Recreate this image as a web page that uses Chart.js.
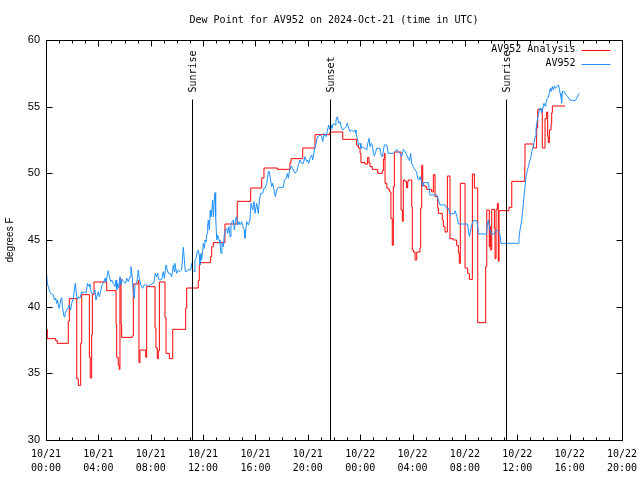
<!DOCTYPE html>
<html>
<head>
<meta charset="utf-8">
<title>Dew Point for AV952</title>
<script src="https://cdn.jsdelivr.net/npm/chart.js@4.4.1/dist/chart.umd.min.js"></script>
<style>
  html, body { margin: 0; padding: 0; background: #fff; }
  canvas { display: block; }
</style>
</head>
<body>
<canvas id="dewChart" width="640" height="480"></canvas>
<script>
// hours since 2024-10-21 00:00 UTC
const analysisHours = [
  0.05, 0.10, 0.74, 0.86, 1.70, 1.78, 2.35, 2.47, 2.65, 2.73,
  3.31, 3.38, 3.49, 3.54, 3.67, 4.64, 5.35, 5.40, 5.52, 5.60,
  5.65, 5.73, 5.78, 6.59, 6.67, 7.05, 7.10, 7.18, 7.62, 7.69,
  8.33, 8.40, 8.50, 8.58, 8.66, 9.09, 9.17, 9.42, 9.68, 10.67,
  10.75, 11.63, 11.71, 11.76, 12.58, 12.66, 12.78, 13.67, 14.61, 15.64,
  16.48, 16.65, 17.67, 18.64, 18.72, 19.61, 20.55, 21.69, 22.67, 23.73,
  23.86, 23.99, 24.06, 24.37, 24.57, 24.67, 24.75, 24.93, 25.34, 25.69,
  25.77, 25.84, 25.90, 26.03, 26.15, 26.26, 26.35, 26.45, 26.53, 26.61,
  27.12, 27.22, 27.29, 27.42, 27.55, 27.63, 27.68, 27.94, 27.98, 28.06,
  28.19, 28.32, 28.57, 28.62, 28.70, 28.78, 28.95, 29.08, 29.46, 29.59,
  29.72, 29.92, 29.97, 30.27, 30.35, 30.48, 30.66, 30.86, 31.11, 31.37,
  31.50, 31.57, 31.65, 32.01, 32.21, 32.34, 32.57, 32.72, 32.98, 33.59,
  33.67, 33.86, 33.92, 33.97, 34.05, 34.25, 34.30, 34.38, 34.48, 34.55,
  34.61, 35.37, 35.58, 36.57, 36.59, 37.23, 37.48, 37.56, 37.91, 38.12,
  38.25, 38.32, 38.37, 38.45, 38.58, 38.63, 38.68, 39.65
];
const analysisValues = [
  38.3, 37.6, 37.45, 37.25, 38.9, 40.6, 34.6, 34.1, 37.25, 40.9,
  36.2, 34.65, 37.9, 40.9, 41.85, 41.2, 38.7, 36.2, 35.6, 35.3,
  42.1, 38.7, 37.7, 37.8, 41.7, 41.95, 35.8, 36.75, 36.2, 41.5,
  38.4, 36.9, 36.1, 36.7, 41.85, 39.2, 36.5, 36.1, 38.3, 39.9,
  41.4, 41.95, 43.1, 43.3, 43.75, 44.5, 44.8, 46.2, 47.9, 48.9,
  49.65, 50.4, 50.3, 50.8, 51.1, 51.9, 52.9, 53.1, 52.55, 52.1,
  51.9, 51.5, 50.8, 50.7, 51.2, 50.8, 50.5, 50.3, 50.0, 50.2,
  51.05, 51.5, 49.25, 48.9, 48.8, 48.6, 46.6, 44.6, 49.0, 51.6,
  47.25, 46.4, 49.5, 49.4, 48.9, 49.4, 49.5, 47.5, 44.25, 44.1,
  43.5, 44.1, 44.4, 47.4, 50.6, 49.1, 49.0, 48.8, 48.6, 49.9,
  48.25, 47.4, 47.0, 46.5, 46.0, 45.6, 49.8, 45.1, 45.0, 44.6,
  44.05, 43.25, 49.25, 42.9, 42.5, 42.05, 49.95, 48.9, 38.8, 43.0,
  47.25, 44.5, 46.0, 44.25, 47.3, 45.9, 43.6, 47.3, 47.75, 43.4,
  47.2, 47.45, 49.4, 50.5, 52.2, 51.9, 53.4, 54.8, 51.9, 54.1,
  54.6, 52.75, 52.3, 53.25, 53.75, 54.55, 55.05, 55.05
];

const obsHours = [
  0.05, 0.10, 0.18, 0.31, 0.43, 0.56, 0.64, 0.74, 0.81, 0.89,
  0.94, 1.02, 1.12, 1.20, 1.27, 1.38, 1.45, 1.58, 1.71, 1.78,
  1.88, 1.96, 2.09, 2.16, 2.24, 2.34, 2.42, 2.47, 2.60, 2.72,
  2.80, 2.93, 3.06, 3.16, 3.23, 3.31, 3.36, 3.49, 3.62, 3.74,
  3.82, 3.92, 4.00, 4.07, 4.18, 4.25, 4.38, 4.51, 4.58, 4.69,
  4.76, 4.84, 4.94, 5.02, 5.14, 5.27, 5.35, 5.40, 5.47, 5.55,
  5.65, 5.73, 5.81, 5.91, 6.09, 6.16, 6.29, 6.42, 6.49, 6.57,
  6.67, 6.75, 6.80, 6.93, 7.05, 7.13, 7.23, 7.38, 7.49, 7.64,
  7.82, 7.94, 8.20, 8.28, 8.35, 8.45, 8.53, 8.61, 8.71, 8.84,
  8.96, 9.04, 9.17, 9.27, 9.35, 9.47, 9.60, 9.73, 9.80, 9.85,
  9.98, 10.11, 10.24, 10.36, 10.49, 10.57, 10.64, 10.75, 10.82, 10.95,
  11.05, 11.13, 11.20, 11.31, 11.38, 11.46, 11.56, 11.64, 11.71, 11.76,
  11.84, 11.89, 11.97, 12.02, 12.10, 12.15, 12.22, 12.30, 12.35, 12.40,
  12.48, 12.55, 12.60, 12.66, 12.73, 12.79, 12.86, 12.91, 12.96, 13.04,
  13.11, 13.22, 13.29, 13.37, 13.44, 13.55, 13.62, 13.72, 13.80, 13.88,
  13.98, 14.06, 14.13, 14.23, 14.31, 14.39, 14.49, 14.57, 14.64, 14.74,
  14.82, 14.95, 15.07, 15.15, 15.20, 15.33, 15.46, 15.58, 15.66, 15.79,
  15.89, 15.97, 16.09, 16.22, 16.30, 16.40, 16.55, 16.65, 16.73, 16.86,
  16.99, 17.06, 17.16, 17.24, 17.32, 17.42, 17.52, 17.62, 17.75, 18.13,
  18.21, 18.33, 18.44, 18.51, 18.59, 18.69, 18.79, 18.89, 19.02, 19.15,
  19.28, 19.40, 19.53, 19.66, 19.78, 19.91, 19.99, 20.07, 20.17, 20.30,
  20.37, 20.50, 20.63, 20.73, 20.81, 20.93, 21.06, 21.14, 21.24, 21.39,
  21.49, 21.59, 21.70, 21.77, 21.85, 21.95, 22.08, 22.15, 22.26, 22.36,
  22.46, 22.54, 22.67, 22.79, 22.92, 23.02, 23.12, 23.22, 23.35, 23.48,
  23.61, 23.68, 23.78, 23.86, 23.99, 24.06, 24.17, 24.37, 24.50, 24.57,
  24.68, 24.75, 24.83, 24.93, 25.01, 25.08, 25.19, 25.26, 25.51, 25.59,
  25.69, 25.85, 26.03, 26.15, 26.53, 26.66, 26.79, 26.92, 27.04, 27.17,
  27.30, 27.43, 27.55, 27.68, 27.76, 27.86, 27.93, 28.06, 28.19, 28.31,
  28.39, 28.49, 28.57, 28.70, 28.77, 28.85, 29.21, 29.33, 29.84, 29.97,
  30.10, 30.48, 30.61, 30.74, 30.86, 31.19, 31.24, 31.37, 31.50, 32.21,
  32.26, 32.34, 32.44, 32.52, 32.65, 32.90, 32.98, 33.03, 33.66, 33.71,
  33.79, 33.87, 33.99, 34.25, 34.30, 34.43, 34.56, 34.68, 34.76, 36.08,
  36.13, 36.21, 36.34, 36.42, 36.49, 36.59, 36.67, 36.77, 36.85, 36.93,
  37.03, 37.10, 37.18, 37.25, 37.36, 37.43, 37.51, 37.61, 37.69, 37.76,
  37.81, 37.86, 37.94, 38.04, 38.12, 38.19, 38.30, 38.37, 38.45, 38.53,
  38.58, 38.68, 38.76, 38.83, 38.93, 39.01, 39.14, 39.21, 39.27, 39.34,
  39.39, 39.44, 39.60, 39.70, 39.85, 40.03, 40.41, 40.54, 40.66, 40.73
];
const obsValues = [
  42.45, 41.75, 41.5, 41.05, 40.93, 40.88, 40.5, 40.63, 40.25, 40.5,
  40.05, 39.88, 40.5, 40.68, 39.88, 39.25, 39.5, 39.75, 39.95, 40.13,
  39.75, 40.25, 40.63, 41.25, 41.75, 40.75, 40.55, 40.75, 40.63, 41.13,
  41.0, 41.13, 41.0, 41.75, 41.55, 41.68, 41.45, 41.0, 41.0, 41.25,
  40.5, 40.88, 41.13, 40.75, 41.13, 41.55, 41.75, 42.13, 41.88, 42.38,
  42.7, 42.25, 41.88, 42.0, 41.75, 41.5, 42.0, 41.25, 41.75, 41.38,
  42.25, 41.63, 42.05, 41.88, 41.75, 42.13, 41.88, 42.25, 43.0, 42.38,
  41.13, 40.63, 41.63, 41.75, 42.75, 42.13, 41.63, 41.38, 41.63, 41.63,
  41.55, 41.63, 41.75, 42.0, 42.5, 42.25, 42.5, 42.05, 42.0, 42.05,
  42.63, 42.13, 43.13, 42.75, 42.5, 42.5, 42.25, 43.13, 42.63, 43.25,
  42.5, 42.75, 42.63, 42.75, 44.45, 43.5, 42.63, 42.63, 42.75, 42.8,
  42.75, 43.25, 42.75, 42.63, 43.5, 43.63, 44.13, 44.25, 43.88, 43.13,
  44.0, 43.5, 44.25, 44.75, 44.38, 45.0, 44.88, 45.5, 46.05, 46.5,
  45.75, 47.25, 46.75, 47.13, 48.0, 46.75, 48.13, 48.55, 46.75, 45.0,
  45.38, 45.0, 44.75, 44.0, 44.75, 44.5, 45.38, 45.75, 45.88, 45.5,
  46.0, 45.25, 46.13, 46.38, 46.5, 45.75, 46.63, 46.75, 46.13, 46.38,
  46.13, 46.38, 45.88, 45.75, 45.13, 46.38, 46.13, 46.5, 47.75, 47.25,
  47.88, 47.0, 47.75, 47.0, 48.0, 48.5, 48.5, 48.88, 48.88, 49.25,
  50.13, 50.13, 49.5, 49.0, 49.25, 48.75, 48.25, 48.75, 48.95, 48.95,
  49.5, 49.63, 50.0, 49.63, 50.13, 50.5, 50.5, 50.25, 50.0, 50.13,
  50.63, 51.0, 50.75, 50.75, 51.25, 50.88, 51.0, 50.75, 51.13, 51.38,
  51.0, 51.75, 52.25, 52.75, 52.75, 52.88, 52.75, 52.38, 53.0, 52.75,
  53.13, 53.63, 53.25, 53.63, 53.38, 53.75, 53.63, 54.0, 54.25, 53.75,
  53.88, 53.5, 53.25, 53.38, 53.5, 53.75, 53.38, 53.13, 53.25, 53.13,
  53.25, 53.0, 52.63, 52.13, 52.25, 51.88, 51.95, 51.88, 51.75, 52.2,
  52.63, 52.0, 52.25, 52.13, 51.5, 51.3, 51.63, 51.88, 51.88, 51.38,
  51.25, 52.13, 52.13, 51.5, 51.5, 51.63, 51.8, 51.63, 51.5, 51.25,
  51.8, 51.63, 51.38, 51.13, 50.95, 51.5, 50.75, 50.5, 50.25, 50.13,
  49.63, 49.5, 49.75, 49.38, 49.0, 49.3, 49.3, 48.38, 48.38, 48.0,
  47.63, 47.63, 47.38, 47.38, 46.95, 47.0, 47.2, 46.88, 46.2, 46.2,
  45.75, 45.25, 45.75, 46.13, 46.45, 46.45, 46.0, 45.45, 45.45, 46.13,
  46.5, 46.0, 45.45, 45.45, 45.63, 45.75, 45.63, 45.38, 44.75, 44.75,
  45.13, 45.75, 46.5, 47.25, 48.0, 49.0, 49.75, 50.25, 50.5, 50.88,
  51.13, 51.63, 51.88, 52.13, 52.75, 53.25, 53.88, 54.38, 54.75, 54.88,
  54.75, 54.55, 54.8, 55.25, 55.05, 55.3, 55.63, 55.7, 56.05, 56.38,
  56.13, 56.5, 56.25, 56.55, 56.38, 56.5, 56.63, 56.38, 56.0, 55.75,
  55.25, 56.13, 56.13, 55.88, 55.75, 55.5, 55.45, 55.63, 55.88, 56.0
];

const eventLabels = ['Sunrise', 'Sunset', 'Sunrise'];
const eventHours = [11.18, 21.72, 35.16];

const xTickDates = ['10/21', '10/21', '10/21', '10/21', '10/21', '10/21',
                    '10/22', '10/22', '10/22', '10/22', '10/22', '10/22'];
const xTickTimes = ['00:00', '04:00', '08:00', '12:00', '16:00', '20:00',
                    '00:00', '04:00', '08:00', '12:00', '16:00', '20:00'];

const MONO = '"DejaVu Sans Mono", "Liberation Mono", monospace';
const SANS = '"Liberation Sans", Arial, sans-serif';

const toPoints = (hours, values) => hours.map((h, i) => ({ x: h, y: values[i] }));

// gnuplot look: inward ticks, border, sun lines, legend and title
const gnuplotFrame = {
    id: 'gnuplotFrame',
    beforeDraw(chart) {
        const ctx = chart.ctx;
        ctx.save();
        ctx.fillStyle = '#fff';
        ctx.fillRect(0, 0, chart.width, chart.height);
        ctx.restore();
    },
    afterDraw(chart) {
        const { ctx, chartArea: a, scales: { x, y } } = chart;
        ctx.save();
        ctx.strokeStyle = '#000';
        ctx.lineWidth = 1;

        const L = Math.round(a.left) + 0.5, R = Math.round(a.right) + 0.5;
        const T = Math.round(a.top) + 0.5, B = Math.round(a.bottom) + 0.5;

        ctx.beginPath();
        // x ticks, major every 4h, minor every hour
        for (let h = x.min; h <= x.max; h++) {
            const px = Math.round(x.getPixelForValue(h)) + 0.5;
            const len = h % 4 === 0 ? 6 : 3;
            ctx.moveTo(px, B); ctx.lineTo(px, B - len);
            ctx.moveTo(px, T); ctx.lineTo(px, T + len);
        }
        for (let v = y.min; v <= y.max; v += 5) {
            const py = Math.round(y.getPixelForValue(v)) + 0.5;
            ctx.moveTo(L, py); ctx.lineTo(L + 6, py);
            ctx.moveTo(R, py); ctx.lineTo(R - 6, py);
        }
        ctx.stroke();

        // sunrise / sunset markers
        ctx.font = '10px ' + MONO;
        ctx.fillStyle = '#000';
        eventHours.forEach((h, i) => {
            const px = Math.round(x.getPixelForValue(h)) + 0.5;
            ctx.beginPath();
            ctx.moveTo(px, T + 59);
            ctx.lineTo(px, B);
            ctx.stroke();
            ctx.save();
            ctx.translate(px + 1, T + 52);
            ctx.rotate(-Math.PI / 2);
            ctx.textAlign = 'left';
            ctx.textBaseline = 'middle';
            ctx.fillText(eventLabels[i], 0, 0);
            ctx.restore();
        });

        ctx.strokeRect(L, T, R - L, B - T);

        // legend, top right inside the plot
        ctx.textAlign = 'right';
        ctx.textBaseline = 'middle';
        chart.data.datasets.forEach((ds, i) => {
            const ly = T + 9 + i * 14;
            ctx.fillStyle = '#000';
            ctx.fillText(ds.label, R - 47, ly);
            ctx.strokeStyle = ds.borderColor;
            ctx.beginPath();
            ctx.moveTo(R - 41, Math.round(ly) + 0.5);
            ctx.lineTo(R - 12, Math.round(ly) + 0.5);
            ctx.stroke();
        });

        // title
        ctx.fillStyle = '#000';
        ctx.textAlign = 'center';
        ctx.fillText('Dew Point for AV952 on 2024-Oct-21 (time in UTC)', (a.left + a.right) / 2, 20);
        ctx.restore();
    }
};

const ctx = document.getElementById('dewChart').getContext('2d');
const dewChart = new Chart(ctx, {
    type: 'line',
    data: {
        datasets: [{
            label: 'AV952 Analysis',
            data: toPoints(analysisHours, analysisValues),
            borderColor: '#ff0000',
            borderWidth: 1,
            pointRadius: 0,
            stepped: true,
            order: 2
        }, {
            label: 'AV952',
            data: toPoints(obsHours, obsValues),
            borderColor: '#1e90ff',
            borderWidth: 1,
            pointRadius: 0,
            tension: 0,
            order: 1
        }]
    },
    options: {
        responsive: false,
        animation: false,
        devicePixelRatio: 1,
        layout: { padding: { top: 40, right: 18, bottom: 0, left: 0 } },
        plugins: {
            legend: { display: false },
            title: { display: false },
            tooltip: { enabled: false }
        },
        scales: {
            x: {
                type: 'linear',
                min: 0,
                max: 44,
                grid: { display: false, drawTicks: false },
                border: { display: false },
                ticks: {
                    stepSize: 4,
                    autoSkip: false,
                    maxRotation: 0,
                    padding: 7,
                    color: '#000',
                    font: { family: MONO, size: 10, lineHeight: 1.4 },
                    callback: (value, index) => [xTickDates[index], xTickTimes[index]]
                },
                afterFit: (scale) => {
                    scale.height = 40;
                    scale.paddingLeft = 0;
                    scale.paddingRight = 0;
                }
            },
            y: {
                min: 30,
                max: 60,
                grid: { display: false, drawTicks: false },
                border: { display: false },
                ticks: {
                    stepSize: 5,
                    padding: 6,
                    color: '#000',
                    font: { family: SANS, size: 11 }
                },
                title: {
                    display: true,
                    text: 'degrees F',
                    color: '#000',
                    font: { family: SANS, size: 10, lineHeight: 1.2 },
                    padding: { top: 4, bottom: 0 }
                },
                afterFit: (scale) => { scale.width = 46; }
            }
        }
    },
    plugins: [gnuplotFrame]
});
</script>
</body>
</html>
